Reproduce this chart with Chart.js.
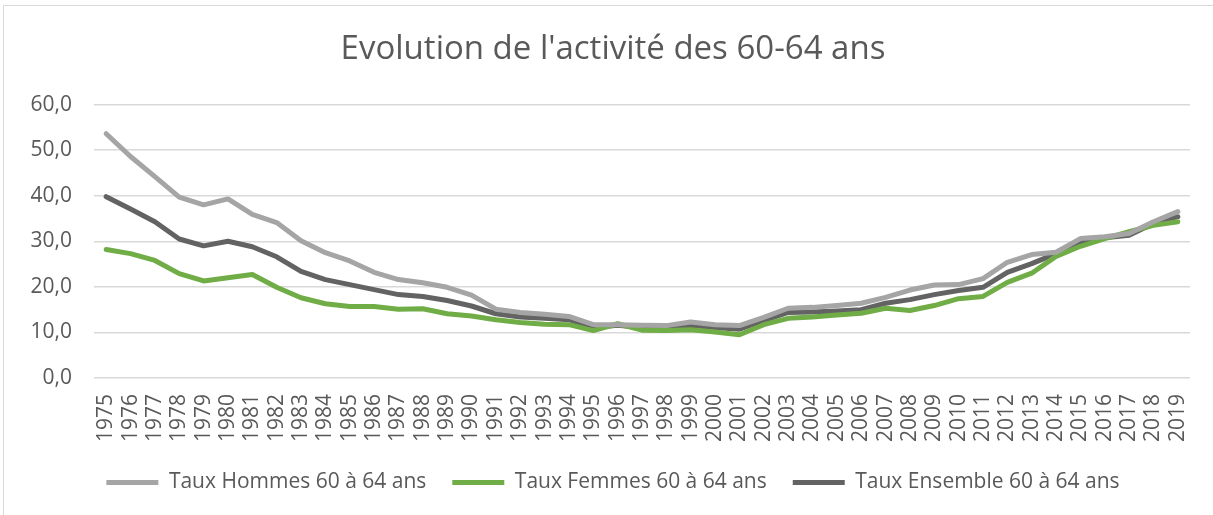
<!DOCTYPE html>
<html>
<head>
<meta charset="utf-8">
<script src="https://cdn.jsdelivr.net/npm/chart.js@4"></script>
<style>
    body { margin: 0; background: #fff; }
    .frame { position: absolute; left: 3px; top: 5px; width: 1220px; height: 520px; border-left: 1px solid #d9d9d9; border-top: 1px solid #d9d9d9; }
    .wrap { position: absolute; left: 0; top: 0; width: 1213px; height: 515px; }
</style>
</head>
<body>
<div class="frame"></div>
<div class="wrap"><canvas id="activityChart" width="1213" height="515"></canvas></div>
<script>
const years = [];
for (let y = 1975; y <= 2019; y++) years.push(String(y));

const hommes = [53.6, 48.6, 44.2, 39.7, 38.0, 39.3, 35.9, 34.1, 30.1, 27.5,
    25.7, 23.2, 21.6, 20.9, 19.9, 18.2, 15.1, 14.4, 14.0, 13.5,
    11.7, 11.7, 11.6, 11.5, 12.3, 11.7, 11.5, 13.3, 15.3, 15.5,
    15.9, 16.4, 17.7, 19.3, 20.4, 20.5, 21.8, 25.4, 27.1, 27.6,
    30.6, 31.0, 31.7, 34.3, 36.5];
const femmes = [28.2, 27.3, 25.8, 22.9, 21.3, 22.0, 22.7, 19.9, 17.6, 16.3,
    15.7, 15.7, 15.1, 15.2, 14.1, 13.6, 12.8, 12.2, 11.8, 11.7,
    10.4, 11.9, 10.5, 10.4, 10.6, 10.1, 9.5, 11.7, 13.1, 13.4,
    13.8, 14.2, 15.3, 14.8, 15.9, 17.4, 17.9, 21.0, 23.0, 26.7,
    28.9, 30.6, 32.1, 33.5, 34.3];
const ensemble = [39.8, 37.1, 34.3, 30.5, 29.0, 30.0, 28.8, 26.6, 23.4, 21.6,
    20.5, 19.4, 18.3, 17.9, 17.0, 15.8, 14.1, 13.4, 13.1, 12.8,
    11.1, 11.6, 11.1, 10.9, 11.5, 11.1, 10.7, 12.6, 14.4, 14.5,
    14.7, 15.0, 16.4, 17.2, 18.3, 19.2, 19.9, 23.2, 25.1, 27.3,
    29.9, 30.8, 31.3, 33.9, 35.4];
const yTicks = [0, 10, 20, 30, 40, 50, 60];

const textColor = '#595959';

function serie(label, data, color) {
    return {
        label: label,
        data: data,
        borderColor: color,
        backgroundColor: color,
        borderWidth: 5,
        borderCapStyle: 'round',
        borderJoinStyle: 'round',
        pointRadius: 0,
        tension: 0
    };
}

// title and legend sit a bit right of the plot centre in the original
const shiftBoxes = {
    id: 'shiftBoxes',
    afterLayout(chart) {
        chart.titleBlock.left += 36;
        chart.legend.left += 36;
    }
};

const config = {
    type: 'line',
    data: {
        labels: years,
        datasets: [
            serie('Taux Hommes 60 à 64 ans', hommes, '#a5a5a5'),
            serie('Taux Femmes 60 à 64 ans', femmes, '#70ad47'),
            serie('Taux Ensemble 60 à 64 ans', ensemble, '#636363')
        ]
    },
    options: {
        responsive: false,
        animation: false,
        layout: { padding: { left: 0, right: 23, top: 0, bottom: 12 } },
        plugins: {
            title: {
                display: true,
                text: "Evolution de l'activité des 60-64 ans",
                color: textColor,
                font: { family: 'Open Sans', size: 33, weight: 'normal' },
                padding: { top: 30, bottom: 35 }
            },
            legend: {
                position: 'bottom',
                labels: {
                    color: textColor,
                    font: { family: 'Open Sans', size: 21 },
                    usePointStyle: true,
                    pointStyle: 'line',
                    pointStyleWidth: 52,
                    padding: 26
                }
            },
            tooltip: { enabled: false }
        },
        scales: {
            x: {
                offset: true,
                grid: { display: false, offset: true },
                border: { display: false },
                ticks: {
                    color: textColor,
                    font: { family: 'Open Sans', size: 21 },
                    maxRotation: 90,
                    minRotation: 90,
                    autoSkip: false,
                    padding: 8
                },
                afterFit: s => { s.height = 68; }
            },
            y: {
                min: 0,
                max: 60,
                afterBuildTicks: s => { s.ticks = yTicks.map(v => ({ value: v })); },
                grid: { color: '#d9d9d9', lineWidth: 1.5, drawTicks: false },
                border: { display: false },
                ticks: {
                    color: textColor,
                    font: { family: 'Open Sans', size: 21 },
                    padding: 22,
                    callback: v => v.toFixed(1).replace('.', ',')
                },
                afterFit: s => { s.width = 94; }
            }
        }
    },
    plugins: [shiftBoxes]
};

new Chart(document.getElementById('activityChart').getContext('2d'), config);
</script>
</body>
</html>
